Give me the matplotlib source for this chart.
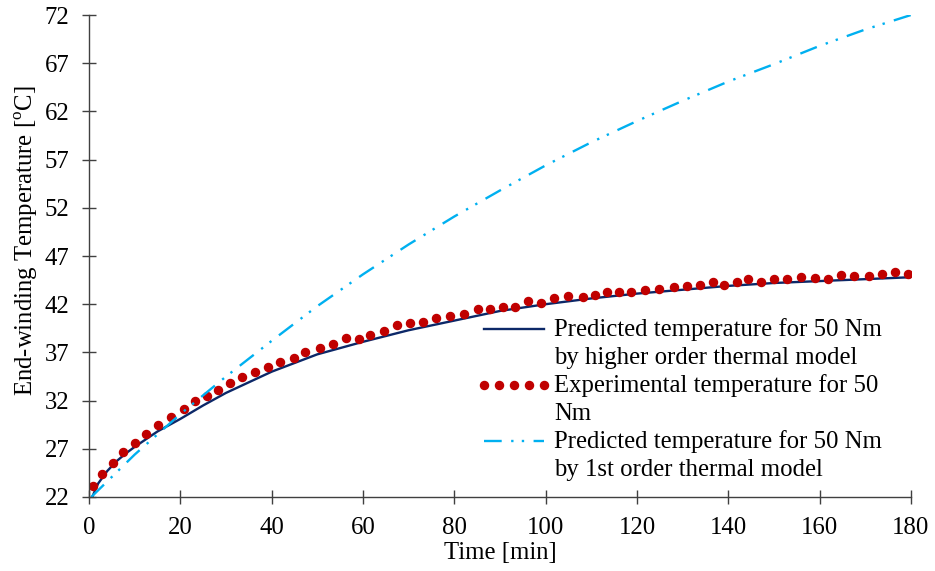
import numpy as np
import matplotlib
matplotlib.use('Agg')
import matplotlib.pyplot as plt

plt.rcParams['font.family'] = ['Liberation Serif', 'DejaVu Serif']
plt.rcParams['mathtext.fontset'] = 'custom'
plt.rcParams['mathtext.rm'] = 'Liberation Serif'

# experimental end-winding temperature
exp_time = [0.9, 2.9, 5.2, 7.4, 10.0, 12.5, 15.0, 17.9, 20.7, 23.3, 25.8, 28.2,
            30.8, 33.5, 36.3, 39.1, 41.8, 44.8, 47.4, 50.5, 53.4, 56.3, 59.1, 61.6,
            64.5, 67.4, 70.4, 73.1, 75.9, 79.1, 82.2, 85.2, 87.8, 90.7, 93.2, 96.2,
            99.0, 101.8, 104.9, 108.1, 110.7, 113.4, 116.1, 118.7, 121.7, 124.8, 128.0,
            130.9, 133.9, 136.6, 139.1, 141.8, 144.3, 147.2, 149.9, 152.9, 155.9, 159.0,
            161.9, 164.6, 167.6, 170.7, 173.6, 176.4, 179.3]
exp_temp = [23.1, 24.4, 25.5, 26.7, 27.6, 28.5, 29.5, 30.3, 31.1, 32.0, 32.5, 33.1,
            33.8, 34.4, 35.0, 35.5, 36.0, 36.4, 37.0, 37.5, 37.9, 38.5, 38.4, 38.8,
            39.2, 39.8, 40.0, 40.2, 40.6, 40.8, 41.0, 41.5, 41.5, 41.7, 41.7, 42.3,
            42.1, 42.6, 42.8, 42.7, 43.0, 43.3, 43.3, 43.3, 43.5, 43.6, 43.8,
            43.9, 44.0, 44.3, 44.0, 44.3, 44.6, 44.3, 44.6, 44.6, 44.8, 44.7,
            44.6, 45.0, 44.9, 44.9, 45.1, 45.3, 45.1]

# higher order thermal model
ho_time = [0.7, 2, 4, 6, 8, 10, 15, 20, 25, 30, 40, 50, 60, 70, 80, 90, 100,
           110, 120, 130, 140, 150, 160, 170, 180]
ho_temp = [22.0, 23.4, 24.7, 25.7, 26.5, 27.2, 28.8, 30.1, 31.5, 32.8, 35.0, 36.8,
           38.1, 39.3, 40.3, 41.3, 42.0, 42.6, 43.1, 43.5, 43.9, 44.2, 44.4, 44.6, 44.8]

# 1st order thermal model
fo_time = [0.5, 10, 20, 30, 40, 50, 60, 70, 80, 90, 100, 110, 120, 130, 140,
           150, 160, 170, 180]
fo_temp = [22.0, 26.4, 30.6, 34.5, 38.2, 41.8, 45.1, 48.2, 51.1, 53.8, 56.4, 58.8,
           61.0, 63.1, 65.1, 66.9, 68.8, 70.5, 72.0]

x_ticks = [0, 20, 40, 60, 80, 100, 120, 140, 160, 180]
y_ticks = [22, 27, 32, 37, 42, 47, 52, 57, 62, 67, 72]

fs = 17.8

fig = plt.figure(figsize=(9.35, 5.71), dpi=100)
ax = fig.add_axes([0.0952, 0.1296, 0.8791, 0.8441])

ax.plot(ho_time, ho_temp, color='#0c2868', lw=1.7,
        label='Predicted temperature for 50 Nm\nby higher order thermal model')
ax.plot(exp_time, exp_temp, linestyle='none', marker='o', ms=5.8,
        color='#c00000', mec='#c00000',
        label='Experimental temperature for 50\nNm')
ax.plot(fo_time, fo_temp, color='#00b0f0', lw=1.7,
        linestyle=(0, (7.5, 4, 1, 3.5, 1, 4)),
        label='Predicted temperature for 50 Nm\nby 1st order thermal model')

ax.set_xlim(0, 180)
ax.set_ylim(22, 72)
ax.set_xticks(x_ticks)
ax.set_yticks(y_ticks)
ax.spines['top'].set_visible(False)
ax.spines['right'].set_visible(False)
for s in ['left', 'bottom']:
    ax.spines[s].set_color('#404040')
    ax.spines[s].set_linewidth(1.0)
ax.tick_params(direction='inout', length=10.4, width=1.0, color='#404040',
               labelsize=fs, pad=9)

ax.set_xlabel('Time [min]', fontsize=fs)
ax.set_ylabel(r'End-winding Temperature [$^{\mathrm{o}}$C]', fontsize=fs)
ax.xaxis.set_label_coords(0.5, -0.094)
ax.yaxis.set_label_coords(-0.060, 0.531)

leg = ax.legend(loc='upper left', bbox_to_anchor=(0.472, 0.372), frameon=False,
                fontsize=fs, numpoints=5, handlelength=3.0, handletextpad=0.12,
                labelspacing=0.2, borderaxespad=0, borderpad=0)
for t in leg.get_texts():
    t.set_linespacing(1.36)
# keep legend keys level with the first line of each label
for h in leg.legend_handles:
    h.set_ydata(np.asarray(h.get_ydata()) + 10.2)

fig.savefig('out.png', dpi=100)
